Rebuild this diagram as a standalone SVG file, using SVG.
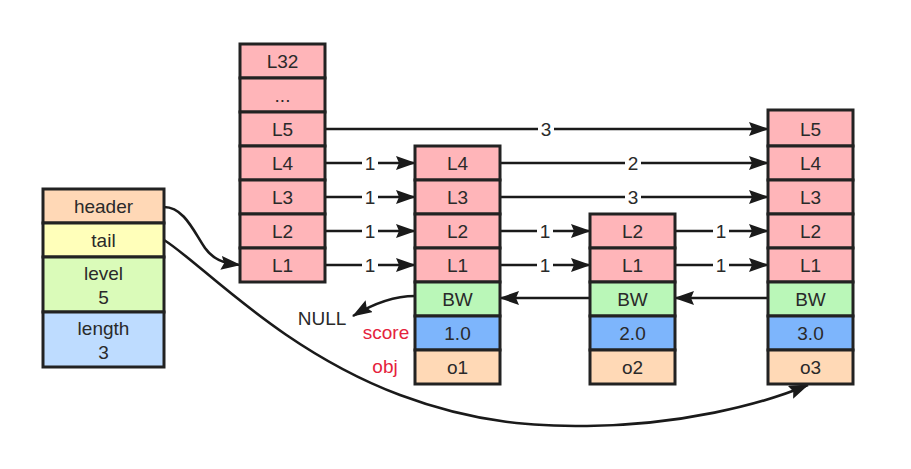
<svg xmlns="http://www.w3.org/2000/svg" width="911" height="469" viewBox="0 0 911 469">
<defs>
<marker id="ah" markerUnits="userSpaceOnUse" markerWidth="20" markerHeight="14" refX="19" refY="7" orient="auto">
<path d="M0,0 L20,7 L0,14 L3,7 z" fill="#1a1a1a"/>
</marker>
<style>
text{font-family:"Liberation Sans",Arial,sans-serif;font-size:19px;fill:#2a2a2a;text-anchor:middle}
.red{fill:#e5223c}
.box{stroke:#222;stroke-width:3}
.pk{fill:#ffb5b9}
.bw{fill:#baf7b8}
.sc{fill:#7db5fc}
.ob{fill:#ffd9b6}
.hd{fill:#ffd8b6}
.tl{fill:#ffffba}
.lv{fill:#dafbb9}
.ln{fill:#bedcff}
.c{fill:none;stroke:#1a1a1a;stroke-width:2.6}
.a{marker-end:url(#ah)}
.lb{fill:#fff}
</style>
</defs>
<rect width="911" height="469" fill="#fff"/>

<g id="connectors">
<path class="c a" d="M325,129 H768"/>
<path class="c a" d="M325,163 H415"/>
<path class="c a" d="M325,197 H415"/>
<path class="c a" d="M325,231 H415"/>
<path class="c a" d="M325,265 H415"/>
<path class="c a" d="M500,163 H768"/>
<path class="c a" d="M500,197 H768"/>
<path class="c a" d="M500,231 H590"/>
<path class="c a" d="M500,265 H590"/>
<path class="c a" d="M675,231 H768"/>
<path class="c a" d="M675,265 H768"/>
<path class="c a" d="M590,298 H500"/>
<path class="c a" d="M768,298 H675"/>
<path class="c a" d="M415,296 C395,296 376,302 353,316"/>
<path class="c a" d="M164,207 C184,207 194,232 205,248 C213,259 222,263 240,265"/>
<path class="c a" d="M164,240 C200,262 280,350 400,395 C480,425 540,426 587,426 C680,425 760,405 808,385"/>
<g>
<rect class="lb" x="538" y="119" width="16" height="20"/><text x="546" y="136">3</text>
<rect class="lb" x="362" y="153" width="16" height="20"/><text x="370" y="170">1</text>
<rect class="lb" x="362" y="187" width="16" height="20"/><text x="370" y="204">1</text>
<rect class="lb" x="362" y="221" width="16" height="20"/><text x="370" y="238">1</text>
<rect class="lb" x="362" y="255" width="16" height="20"/><text x="370" y="272">1</text>
<rect class="lb" x="625" y="153" width="16" height="20"/><text x="633" y="170">2</text>
<rect class="lb" x="625" y="187" width="16" height="20"/><text x="633" y="204">3</text>
<rect class="lb" x="537" y="221" width="16" height="20"/><text x="545" y="238">1</text>
<rect class="lb" x="537" y="255" width="16" height="20"/><text x="545" y="272">1</text>
<rect class="lb" x="713" y="221" width="16" height="20"/><text x="721" y="238">1</text>
<rect class="lb" x="713" y="255" width="16" height="20"/><text x="721" y="272">1</text>
</g>
</g>

<g id="zskiplist">
<rect class="box hd" x="43" y="189" width="121" height="34"/><text x="103.5" y="213">header</text>
<rect class="box tl" x="43" y="223" width="121" height="34"/><text x="103.5" y="247">tail</text>
<rect class="box lv" x="43" y="257" width="121" height="55"/><text x="103.5" y="280">level</text><text x="103.5" y="304">5</text>
<rect class="box ln" x="43" y="312" width="121" height="55"/><text x="103.5" y="335">length</text><text x="103.5" y="359">3</text>
</g>

<g id="header-node">
<rect class="box pk" x="240" y="44" width="85" height="34"/><text x="282.5" y="68">L32</text>
<rect class="box pk" x="240" y="78" width="85" height="34"/><text x="282.5" y="102">...</text>
<rect class="box pk" x="240" y="112" width="85" height="34"/><text x="282.5" y="136">L5</text>
<rect class="box pk" x="240" y="146" width="85" height="34"/><text x="282.5" y="170">L4</text>
<rect class="box pk" x="240" y="180" width="85" height="34"/><text x="282.5" y="204">L3</text>
<rect class="box pk" x="240" y="214" width="85" height="34"/><text x="282.5" y="238">L2</text>
<rect class="box pk" x="240" y="248" width="85" height="34"/><text x="282.5" y="272">L1</text>
</g>

<g id="node-o1">
<rect class="box pk" x="415" y="146" width="85" height="34"/><text x="457.5" y="170">L4</text>
<rect class="box pk" x="415" y="180" width="85" height="34"/><text x="457.5" y="204">L3</text>
<rect class="box pk" x="415" y="214" width="85" height="34"/><text x="457.5" y="238">L2</text>
<rect class="box pk" x="415" y="248" width="85" height="34"/><text x="457.5" y="272">L1</text>
<rect class="box bw" x="415" y="282" width="85" height="34"/><text x="457.5" y="306">BW</text>
<rect class="box sc" x="415" y="316" width="85" height="34"/><text x="457.5" y="340">1.0</text>
<rect class="box ob" x="415" y="350" width="85" height="34"/><text x="457.5" y="374">o1</text>
</g>

<g id="node-o2">
<rect class="box pk" x="590" y="214" width="85" height="34"/><text x="632.5" y="238">L2</text>
<rect class="box pk" x="590" y="248" width="85" height="34"/><text x="632.5" y="272">L1</text>
<rect class="box bw" x="590" y="282" width="85" height="34"/><text x="632.5" y="306">BW</text>
<rect class="box sc" x="590" y="316" width="85" height="34"/><text x="632.5" y="340">2.0</text>
<rect class="box ob" x="590" y="350" width="85" height="34"/><text x="632.5" y="374">o2</text>
</g>

<g id="node-o3">
<rect class="box pk" x="768" y="110" width="85" height="36"/><text x="810.5" y="136">L5</text>
<rect class="box pk" x="768" y="146" width="85" height="34"/><text x="810.5" y="170">L4</text>
<rect class="box pk" x="768" y="180" width="85" height="34"/><text x="810.5" y="204">L3</text>
<rect class="box pk" x="768" y="214" width="85" height="34"/><text x="810.5" y="238">L2</text>
<rect class="box pk" x="768" y="248" width="85" height="34"/><text x="810.5" y="272">L1</text>
<rect class="box bw" x="768" y="282" width="85" height="34"/><text x="810.5" y="306">BW</text>
<rect class="box sc" x="768" y="316" width="85" height="34"/><text x="810.5" y="340">3.0</text>
<rect class="box ob" x="768" y="350" width="85" height="34"/><text x="810.5" y="374">o3</text>
</g>

<g id="labels">
<text x="322" y="325">NULL</text>
<text class="red" x="386" y="339">score</text>
<text class="red" x="385" y="373">obj</text>
</g>
</svg>
